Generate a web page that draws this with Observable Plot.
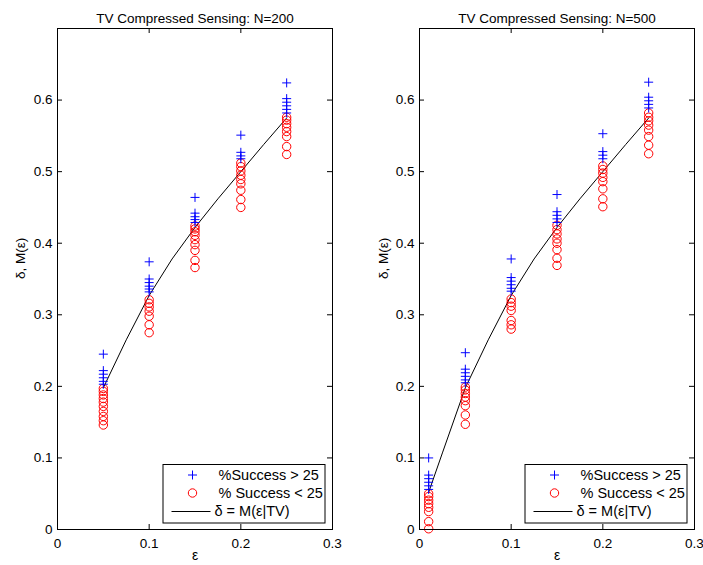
<!DOCTYPE html>
<html><head><meta charset="utf-8">
<script src="https://cdn.jsdelivr.net/npm/d3@7"></script>
<script src="https://cdn.jsdelivr.net/npm/@observablehq/plot@0.6"></script>
<style>
body{margin:0;background:#fff;}
#wrap{position:relative;width:703px;height:565px;background:#fff;}
#wrap svg{position:absolute;top:0;}
</style></head><body><div id="wrap"></div>
<script>
const xTicks = [0, 0.1, 0.2, 0.3];
const yTicks = [0, 0.1, 0.2, 0.3, 0.4, 0.5, 0.6];
const titles = ["TV Compressed Sensing: N=200", "TV Compressed Sensing: N=500"];
const xLabel = "ε";
const yLabel = "δ, M(ε)";
const legendLabels = ["%Success > 25", "% Success < 25", "δ = M(ε|TV)"];

// N=200 panel
const epsN200 = [0.05, 0.10, 0.15, 0.20, 0.25];
const aboveN200 = [
  [0.245, 0.222, 0.217, 0.212, 0.207, 0.203],
  [0.374, 0.350, 0.345, 0.340, 0.336, 0.332],
  [0.464, 0.442, 0.437, 0.433, 0.429],
  [0.551, 0.527, 0.522, 0.518],
  [0.624, 0.602, 0.597, 0.592, 0.587, 0.582]
];
const belowN200 = [
  [0.197, 0.193, 0.188, 0.183, 0.178, 0.172, 0.165, 0.158, 0.152, 0.146],
  [0.321, 0.316, 0.311, 0.305, 0.298, 0.286, 0.275],
  [0.424, 0.420, 0.416, 0.411, 0.405, 0.398, 0.390, 0.376, 0.366],
  [0.512, 0.507, 0.501, 0.495, 0.489, 0.483, 0.474, 0.461, 0.450],
  [0.576, 0.572, 0.567, 0.562, 0.556, 0.549, 0.535, 0.524]
];

// N=500 panel
const epsN500 = [0.01, 0.05, 0.10, 0.15, 0.20, 0.25];
const aboveN500 = [
  [0.100, 0.076, 0.071, 0.066, 0.061, 0.056],
  [0.247, 0.224, 0.219, 0.214, 0.209, 0.205],
  [0.378, 0.352, 0.347, 0.342, 0.337, 0.333],
  [0.468, 0.444, 0.439, 0.434, 0.429],
  [0.553, 0.528, 0.523, 0.518],
  [0.625, 0.604, 0.599, 0.594, 0.589]
];
const belowN500 = [
  [0.050, 0.046, 0.041, 0.036, 0.031, 0.025, 0.011, 0.001],
  [0.199, 0.195, 0.190, 0.185, 0.180, 0.173, 0.160, 0.147],
  [0.322, 0.317, 0.312, 0.306, 0.292, 0.286, 0.280],
  [0.425, 0.419, 0.413, 0.406, 0.400, 0.391, 0.379, 0.369],
  [0.508, 0.503, 0.498, 0.492, 0.486, 0.476, 0.462, 0.451],
  [0.582, 0.576, 0.571, 0.565, 0.558, 0.549, 0.537, 0.525]
];

// M(eps | TV) curve
const curveEps = [0.01, 0.025, 0.05, 0.075, 0.10, 0.125, 0.15, 0.175, 0.20, 0.225, 0.25];
const curveM   = [0.052, 0.107, 0.198, 0.265, 0.327, 0.378, 0.422, 0.462, 0.500, 0.538, 0.575];

const FONT = '"Liberation Sans", Arial, Helvetica, sans-serif';
const plusSymbol = {
  draw(ctx, size) {
    const r = Math.sqrt(size / Math.PI);
    ctx.moveTo(-r, 0); ctx.lineTo(r, 0);
    ctx.moveTo(0, -r); ctx.lineTo(0, r);
  }
};

function flatten(eps, vals) {
  return eps.flatMap((e, i) => vals[i].map(v => ({eps: e, delta: v})));
}

function panel({left, width, mL, mR, title, eps, above, below, curveStart, ylabDx}) {
  const H = 565, mT = 28, mB = 36;
  const plotH = H - mT - mB, plotW = width - mL - mR;
  const curve = curveEps.map((e, i) => ({eps: e, m: curveM[i]})).filter(d => d.eps >= curveStart - 1e-9);
  const chart = Plot.plot({
    width, height: H, marginLeft: mL, marginRight: mR, marginTop: mT, marginBottom: mB,
    style: {fontFamily: FONT, fontSize: "13.5px", background: "transparent", color: "black", overflow: "visible"},
    x: {domain: [0, 0.3]},
    y: {domain: [0, 0.7]},
    marks: [
      Plot.ruleX(xTicks, {x: d => d, insetTop: plotH - 5, stroke: "black"}),
      Plot.ruleX(xTicks, {x: d => d, insetBottom: plotH - 5, stroke: "black"}),
      Plot.ruleY(yTicks, {y: d => d, insetRight: plotW - 5, stroke: "black"}),
      Plot.ruleY(yTicks, {y: d => d, insetLeft: plotW - 5, stroke: "black"}),
      Plot.axisX({ticks: xTicks, tickSize: 0, tickPadding: 9, tickFormat: d => String(d), label: null, fill: "black", fontSize: 13.5}),
      Plot.axisY({ticks: yTicks, tickSize: 0, tickPadding: 5, tickFormat: d => String(d), label: null, fill: "black", fontSize: 13.5}),
      Plot.line(curve, {x: "eps", y: "m", stroke: "black", strokeWidth: 1}),
      Plot.dot(flatten(eps, below), {x: "eps", y: "delta", r: 4.2, stroke: "#ff0000", fill: "none", strokeWidth: 1}),
      Plot.dot(flatten(eps, above), {x: "eps", y: "delta", r: 4.5, stroke: "#0000ff", fill: "none", strokeWidth: 1, symbol: plusSymbol}),
      Plot.frame({stroke: "black", strokeWidth: 1}),
      Plot.text([title], {text: d => d, frameAnchor: "top", dy: -15.5, fontSize: 13.5, fill: "black"}),
      Plot.text([xLabel], {text: d => d, frameAnchor: "bottom", dy: 30, fontSize: 14, fill: "black"}),
      Plot.text([yLabel], {text: d => d, frameAnchor: "left", dx: ylabDx, rotate: -90, fontSize: 13.5, fill: "black"})
    ]
  });
  chart.style.left = left + "px";
  // legend box (inside frame, bottom right)
  const svg = d3.select(chart);
  const lw = 162, lh = 58.5;
  const lx = width - mR - 7.5 - lw, ly = H - mB - 6.5 - lh;
  const g = svg.append("g").attr("font-family", FONT).attr("font-size", 14.5).attr("text-anchor", "start");
  g.append("rect").attr("x", lx + 0.5).attr("y", ly + 0.5).attr("width", lw).attr("height", lh)
    .attr("fill", "white").attr("stroke", "black");
  const rows = [11, 29, 47];
  const pr = 4.5;
  g.append("path").attr("d", `M${lx+30-pr},${ly+rows[0]}h${2*pr}M${lx+30},${ly+rows[0]-pr}v${2*pr}`)
    .attr("stroke", "#0000ff").attr("fill", "none");
  g.append("circle").attr("cx", lx + 30).attr("cy", ly + rows[1]).attr("r", 4.2)
    .attr("stroke", "#ff0000").attr("fill", "none");
  g.append("line").attr("x1", lx + 9).attr("x2", lx + 48).attr("y1", ly + rows[2] + 0.5).attr("y2", ly + rows[2] + 0.5)
    .attr("stroke", "black");
  const tx = [lx + 56, lx + 56, lx + 52];
  legendLabels.forEach((t, i) => {
    g.append("text").attr("x", tx[i]).attr("y", ly + rows[i]).attr("dy", "0.36em")
      .attr("fill", "black").attr("text-anchor", "start").text(t);
  });
  return chart;
}

const wrap = document.getElementById("wrap");
wrap.appendChild(panel({left: 0, width: 351, mL: 57, mR: 19, title: titles[0], eps: epsN200, above: aboveN200, below: belowN200, curveStart: 0.05, ylabDx: -37}));
wrap.appendChild(panel({left: 351, width: 352, mL: 68, mR: 9, title: titles[1], eps: epsN500, above: aboveN500, below: belowN500, curveStart: 0.01, ylabDx: -36}));
</script>
</body></html>
